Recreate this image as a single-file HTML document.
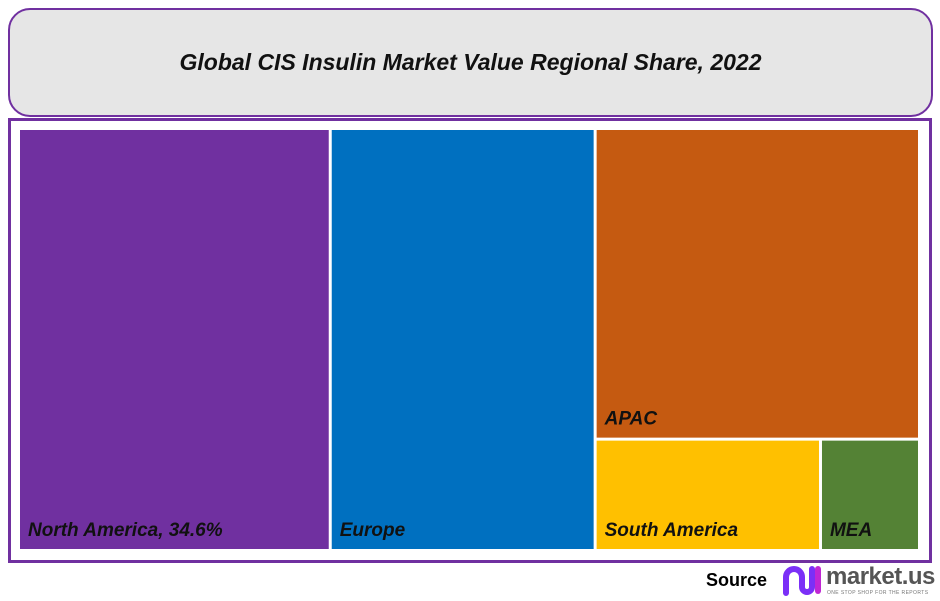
<!DOCTYPE html>
<html><head><meta charset="utf-8"><style>
body{margin:0;width:940px;height:601px;background:#fff;font-family:"Liberation Sans",sans-serif;position:relative;overflow:hidden}
#title{position:absolute;left:8px;top:8px;width:921px;height:105px;border:2px solid #7030a0;border-radius:22px;background:#e6e6e6;display:flex;align-items:center;justify-content:center;font:italic bold 23px "Liberation Sans",sans-serif;color:#111}
#frame{position:absolute;left:8px;top:118px;width:918px;height:439px;border:3px solid #7030a0}
#src{position:absolute;left:706px;top:570px;font:bold 18px "Liberation Sans",sans-serif}
#logo{position:absolute;left:826px;top:563px;font:bold 24px "Liberation Sans",sans-serif;color:#555;letter-spacing:-0.5px}
#tag{position:absolute;left:827px;top:590px;font:5px "Liberation Sans",sans-serif;color:#777;white-space:nowrap;letter-spacing:0.4px}
</style></head><body>
<div id="title">Global CIS Insulin Market Value Regional Share, 2022</div>
<div id="frame"></div>
<svg id="tm" width="940" height="601" style="position:absolute;left:0;top:0"></svg>
<div id="src">Source</div>
<svg style="position:absolute;left:780px;top:563px" width="42" height="36">
<path d="M6 30 V14 a8 8 0 0 1 16 0 V24 a5 5 0 0 0 10 0 V6" stroke="#7b2ff7" stroke-width="6" fill="none" stroke-linecap="round"/>
<path d="M38 6 V28" stroke="#c026d3" stroke-width="6" stroke-linecap="round"/>
</svg>
<div id="logo">market.us</div>
<div id="tag">ONE STOP SHOP FOR THE REPORTS</div>
<script>
const regions=["North America","Europe","APAC","South America","MEA"];
const shares=[34.6,29.4,26.5,6.6,2.9];
const colors=["#7030a0","#0070c0","#c55a11","#ffc000","#548235"];
const labels=["North America, 34.6%","Europe","APAC","South America","MEA"];
const X0=20,Y0=130,W=898,H=419,G=3;
const svg=document.getElementById('tm');
const total=shares.reduce((a,b)=>a+b,0);
function rect(i,x,y,w,h){
 const r=document.createElementNS('http://www.w3.org/2000/svg','rect');
 r.setAttribute('x',x);r.setAttribute('y',y);r.setAttribute('width',Math.max(0,w-G));r.setAttribute('height',Math.max(0,h-G));r.setAttribute('fill',colors[i]);
 
 
 svg.appendChild(r);
 const t=document.createElementNS('http://www.w3.org/2000/svg','text');
 t.setAttribute('x',x+8);t.setAttribute('y',y+h-G-13);
 t.setAttribute('font-family','Liberation Sans, sans-serif');t.setAttribute('font-size','19');t.setAttribute('font-weight','bold');t.setAttribute('font-style','italic');t.setAttribute('fill','#111');
 t.textContent=labels[i];
 
 
 svg.appendChild(t);
}
const WT=W+G,HT=H+G;
let x=X0;
const w0=WT*shares[0]/total; rect(0,x,Y0,w0,HT); x+=w0;
const w1=WT*shares[1]/total; rect(1,x,Y0,w1,HT); x+=w1;
const rest=shares[2]+shares[3]+shares[4];
const wr=X0+WT-x;
const h2=HT*shares[2]/rest; rect(2,x,Y0,wr,h2);
const hb=HT-h2, bt=shares[3]+shares[4];
const w3=wr*shares[3]/bt; rect(3,x,Y0+h2,w3,hb); rect(4,x+w3,Y0+h2,wr-w3,hb);
</script>
</body></html>
